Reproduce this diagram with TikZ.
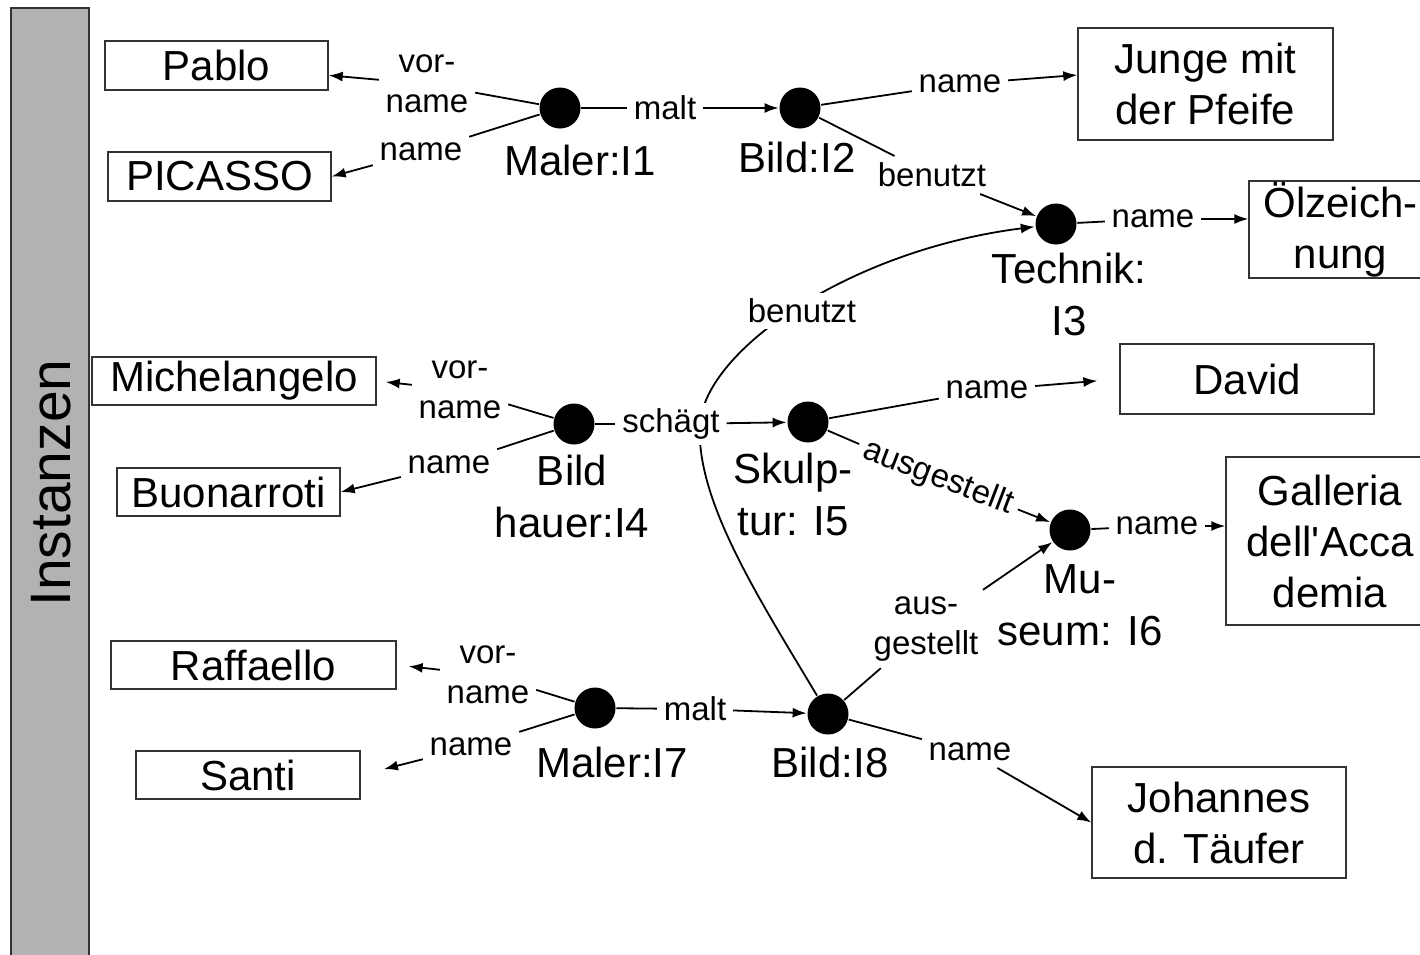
\documentclass[tikz,border=0pt]{standalone}
\usepackage{fontspec}
\setmainfont{Liberation Sans}
\usetikzlibrary{arrows.meta,backgrounds,calc}
\begin{document}
\begin{tikzpicture}[x=1pt,y=-1pt,
  line width=1.8pt,
  box/.style={draw, line width=1.4pt, draw=black!80, inner sep=0pt, font=\fontsize{42}{51}\selectfont, align=center},
  dot/.style={circle, fill=black, inner sep=0pt, minimum size=41pt},
  inst/.style={font=\fontsize{42}{52}\selectfont, align=center, inner sep=0pt},
  lbl/.style={font=\fontsize{33}{40}\selectfont, align=center, inner sep=6pt, fill=white},
  arr/.style={-{Latex[length=14pt,width=10pt]}},
]
\useasboundingbox (0,0) rectangle (1420,954);

% side bar
\draw[fill=black!30, draw=black!80, line width=1.5pt] (11,8) rectangle (89,960);
\node[rotate=90, font=\fontsize{57}{60}\selectfont, inner sep=0pt] (inst) at (51,483) {Instanzen};

% value boxes
\node[box, minimum width=223, minimum height=49] (pablo) at (216.5,65.5) {Pablo};
\node[box, minimum width=223, minimum height=49] (picasso) at (219.5,176.5) {PICASSO};
\node[box, minimum width=255, minimum height=112] (junge) at (1205.5,84) {Junge mit\\der Pfeife};
\node[box, minimum width=183, minimum height=97] (oel) at (1340.5,229.5) {Ölzeich-\\nung};
\node[box, minimum width=284, minimum height=48] (michel) at (234,381) {Michelangelo};
\node[box, minimum width=223, minimum height=48] (buon) at (228.5,492) {Buonarroti};
\node[box, minimum width=254, minimum height=70] (david) at (1247,379) {David};
\node[box, minimum width=208, minimum height=168] (gall) at (1330,541) {Galleria\\dell\textquotesingle Acca\\demia};
\node[box, minimum width=285, minimum height=48] (raff) at (253.5,665) {Raffaello};
\node[box, minimum width=224, minimum height=48] (santi) at (248,775) {Santi};
\node[box, minimum width=254, minimum height=111] (joh) at (1219,822.5) {Johannes\\d. Täufer};

% instance dots
\node[dot] (m1) at (560,108) {};
\node[dot] (b2) at (800,108) {};
\node[dot] (t3) at (1056,224) {};
\node[dot] (h4) at (574,424) {};
\node[dot] (s5) at (808,422) {};
\node[dot] (m6) at (1070,530) {};
\node[dot] (m7) at (595,708) {};
\node[dot] (b8) at (828,714) {};

% instance names
\node[inst] (m1l) at (580,160) {Maler:I1};
\node[inst] (b2l) at (797,157) {Bild:I2};
\node[inst] (t3l) at (1069,294) {Technik:\\I3};
\node[inst] (h4l) at (572,496) {Bild\\hauer:I4};
\node[inst] (s5l) at (793,494) {Skulp-\\tur: I5};
\node[inst] (m6l) at (1080,605) {Mu-\\seum: I6};
\node[inst] (m7l) at (612,762) {Maler:I7};
\node[inst] (b8l) at (830,762) {Bild:I8};

% edge labels
\node[lbl] (lv1) at (427,84) {vor-\\name};
\node[lbl] (ln1) at (421,152) {name};
\node[lbl] (malt1) at (665,108) {malt};
\node[lbl] (nm2) at (960,84) {name};
\node[lbl] (ben2) at (932,175) {benutzt};
\node[lbl] (nm3) at (1153,219) {name};
\node[lbl] (ben8) at (802,311) {benutzt};
\node[lbl] (lv4) at (460,390) {vor-\\name};
\node[lbl] (ln4) at (449,465) {name};
\node[lbl] (sch) at (671,424) {schägt};
\node[lbl] (nm5) at (987,390) {name};
\node[lbl, rotate=-21] (aus5) at (938,478) {ausgestellt};
\node[lbl] (nm6) at (1157,526) {name};
\node[lbl] (aus8) at (926,629) {aus-\\gestellt};
\node[lbl] (lv7) at (488,675) {vor-\\name};
\node[lbl] (ln7) at (471,747) {name};
\node[lbl] (malt7) at (695,709) {malt};
\node[lbl] (nm8) at (970,752) {name};

% connectors
\draw (m1) -- (lv1);
\draw (m1) -- (ln1);
\draw[arr] (lv1) -- (pablo);
\draw[arr] (ln1) -- (picasso.east);
\draw (m1) -- (malt1);
\draw[arr] (malt1) -- (b2);
\draw (b2) -- (nm2);
\draw[arr] (nm2) -- ($(junge.west)+(0,-9)$);
\draw (b2) -- (ben2);
\draw[arr] (ben2) -- (t3);
\draw (t3) -- (nm3);
\draw[arr] (nm3) -- (oel.west |- nm3);

\draw (h4) -- (lv4);
\draw (h4) -- (ln4);
\draw[arr, shorten >=9pt] (lv4) -- (michel.east);
\draw[arr] (ln4) -- (buon.east);
\draw (h4) -- (sch);
\draw[arr] (sch) -- (s5);
\draw (s5) -- (nm5);
\draw[arr, shorten >=22pt] (nm5) -- (david.west);
\draw (s5) -- (aus5);
\draw[arr] (aus5) -- (m6);
\draw (m6) -- (nm6);
\draw[arr] (nm6) -- (gall.west |- nm6);
\draw (b8) -- (aus8);
\draw[arr] (aus8) -- (m6);

\draw (m7) -- (lv7);
\draw (m7) -- (ln7);
\draw[arr, shorten >=12pt] (lv7) -- (raff.east);
\draw[arr, shorten >=24pt] (ln7) -- (santi.east);
\draw (m7) -- (malt7);
\draw[arr] (malt7) -- (b8);
\draw (b8) -- (nm8);
\draw[arr] (nm8) -- (joh.west);

\begin{scope}[on background layer]
\fill[white] (0,0) rectangle (1420,954);
\draw[arr, line width=1.8pt] (b8) .. controls (760,600) and (695,500) .. (700,424) .. controls (705,350) and (850,250) .. (t3);
\end{scope}
\end{tikzpicture}
\end{document}
